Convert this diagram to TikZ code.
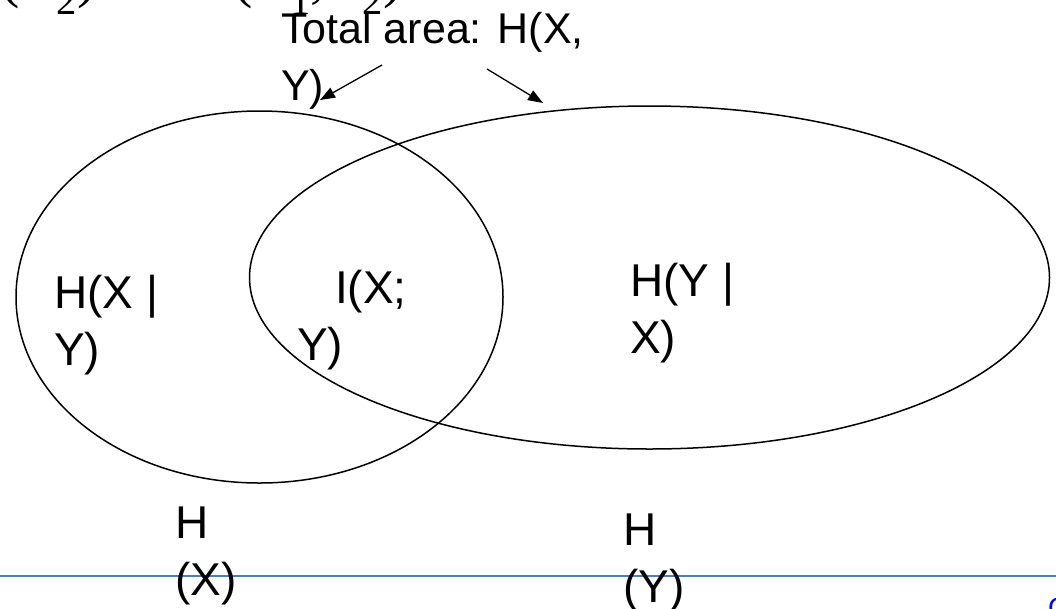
\documentclass[tikz,border=0pt]{standalone}
\usepackage{fontspec}
\setmainfont{Liberation Sans}
\newfontfamily\serifhead{Liberation Serif}
\usetikzlibrary{arrows.meta,shapes.geometric}
\definecolor{rule}{RGB}{74,126,187}
\begin{document}
\begin{tikzpicture}[x=1pt,y=-1pt,
  lbl/.style={inner sep=0pt, anchor=base west, align=left, font=\fontsize{46}{57}\selectfont},
  venn/.style={draw, ellipse, inner sep=0pt, line width=1.5pt},
  pointer/.style={-{Triangle[length=15pt,width=11pt]}, line width=1.3pt}]
\useasboundingbox (0,0) rectangle (1056,608);
\clip (0,0) rectangle (1056,608);
% header rule
\draw[rule, line width=2pt] (0,576) -- (1056,576);
% clipped heading
\node[inner sep=0pt, anchor=base west, font=\serifhead\fontsize{58}{64}\selectfont] (head) at (0,-4)
  {(\textit{X}\textsubscript{2})\hspace{92pt}\textit{H}(\textit{X}\textsubscript{1},\textit{X}\textsubscript{2})};
% ellipses
\node[venn, minimum width=487pt, minimum height=372pt] (ex) at (259.5,297) {};
\node[venn, minimum width=800pt, minimum height=343pt] (ey) at (649.5,277.5) {};
% labels (base anchor = baseline of last line)
\node[lbl, font=\fontsize{43}{57}\selectfont] (total) at (281,100) {Total area: H(X,\\Y)};
\node[lbl] (hxy) at (54,365) {H(X |\\Y)};
\node[lbl] (ixy) at (297,360) {\hspace*{38pt}I(X;\\Y)};
\node[lbl] (hyx) at (630,353) {H(Y |\\X)};
\node[lbl] (hx) at (175,595) {H\\(X)};
\node[lbl] (hy) at (623,602) {H\\(Y)};
% pointers
\coordinate (p1s) at (382,65);
\coordinate (p1e) at (320,100);
\coordinate (p2s) at (487,69);
\coordinate (p2e) at (543,103);
\draw[pointer] (p1s) -- (p1e);
\draw[pointer] (p2s) -- (p2e);
% corner glyph
\node[inner sep=0pt, anchor=north west, text=blue, font=\fontsize{28}{30}\selectfont] (corner) at (1048,598) {C};
\end{tikzpicture}
\end{document}
